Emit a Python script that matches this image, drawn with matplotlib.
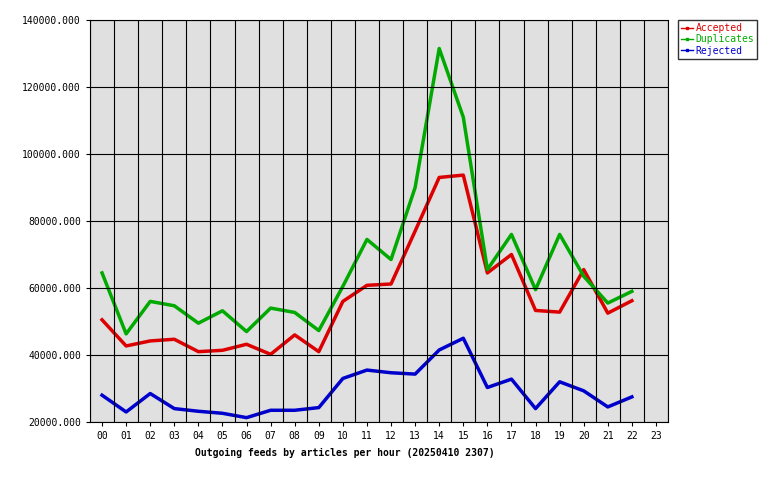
import matplotlib
matplotlib.use("Agg")
import matplotlib.pyplot as plt
from matplotlib.lines import Line2D

hours = ["%02d" % h for h in range(24)]
accepted = [50500, 42700, 44200, 44700, 41000, 41400, 43200, 40200, 46000, 41000, 56000, 60800,
            61200, 77000, 93000, 93700, 64500, 70000, 53300, 52800, 65500, 52500, 56200]
duplicates = [64500, 46300, 56000, 54700, 49500, 53200, 47000, 54000, 52700, 47300, 60500, 74500,
              68500, 90000, 131500, 111000, 65500, 76000, 59500, 76000, 63500, 55500, 59000]
rejected = [28000, 23000, 28500, 24000, 23200, 22600, 21300, 23500, 23500, 24300, 33000, 35500,
            34700, 34300, 41500, 45000, 30300, 32800, 24000, 32000, 29300, 24500, 27500]
yticks = list(range(20000, 140001, 20000))

plt.rcParams['font.family'] = ['DejaVu Sans Mono']
fig = plt.figure(figsize=(7.8, 4.8), dpi=100)
ax = fig.add_axes([90/780, 58/480, 578/780, 402/480])
ax.set_facecolor('#e0e0e0')
x = list(range(len(accepted)))
ax.plot(x, accepted, color='#dd0000', lw=2.5, label='Accepted')
ax.plot(x, duplicates, color='#00aa00', lw=2.5, label='Duplicates')
ax.plot(x, rejected, color='#0000cc', lw=2.5, label='Rejected')
ax.set_xlim(-0.5, 23.5)
ax.set_ylim(20000, 140000)
ax.set_yticks(yticks)
ax.set_yticklabels(["%d.000" % v for v in yticks], fontsize=7)
ax.set_xticks(range(24))
ax.set_xticklabels(hours, fontsize=7)
ax.grid(False)
for v in yticks:
    ax.axhline(v, color='black', lw=0.8)
for i in range(25):
    ax.axvline(i - 0.5, color='black', lw=0.8)
ax.tick_params(which='major', length=3)
ax.set_xlabel("Outgoing feeds by articles per hour (20250410 2307)", fontsize=7, fontweight='bold', labelpad=4)
ax.xaxis.set_label_coords(0.44, -0.065)
handles = [Line2D([], [], color=c, lw=1, marker='s', markersize=2) for c in ['#dd0000', '#00aa00', '#0000cc']]
fig.legend(handles, ['Accepted', 'Duplicates', 'Rejected'], loc='upper left',
           bbox_to_anchor=(678/780, 1 - 20/480), fontsize=7, frameon=True, fancybox=False,
           edgecolor='black', handlelength=1.2, handletextpad=0.3, labelspacing=0.15, borderpad=0.3,
           borderaxespad=0, labelcolor=['#dd0000', '#00aa00', '#0000cc'])
fig.savefig("out.png", dpi=100)
